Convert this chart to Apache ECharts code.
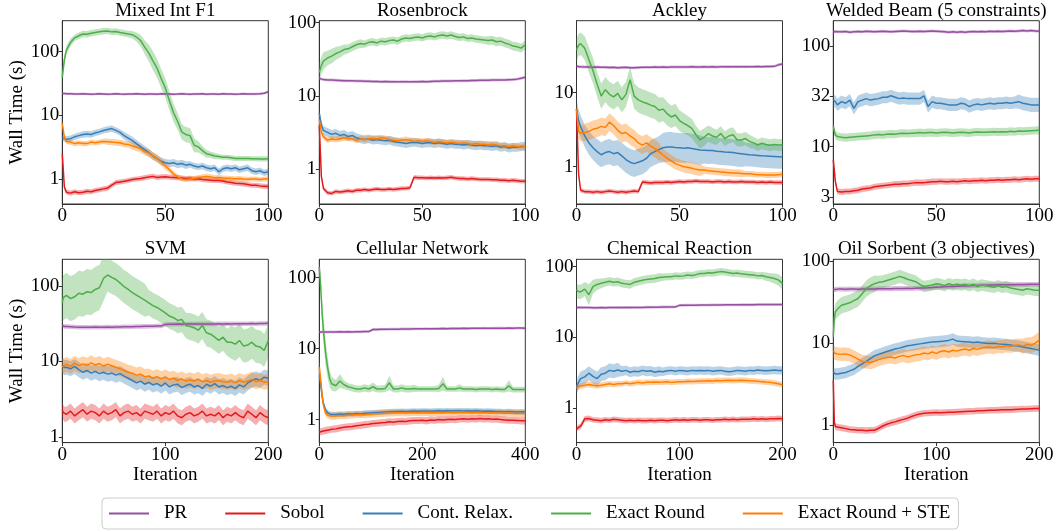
<!DOCTYPE html>
<html><head><meta charset="utf-8">
<script src="https://cdn.jsdelivr.net/npm/echarts@6/dist/echarts.min.js"></script>
<style>html,body{margin:0;padding:0;background:#fff}#c{width:1058px;height:531px}</style>
</head><body><div id="c"></div><script>
// ---------- iterations (x values) ----------
const ITER_100 = [0,1,2,4,6,8,10,12,14,16,18,20,22,24,26,28,30,32,34,36,38,40,42,44,46,48,50,52,54,56,58,60,62,64,66,68,70,72,74,76,78,80,82,84,86,88,90,92,94,96,98,100];
const ITER_200 = [0,1,2,4,8,12,16,20,24,28,32,36,40,44,48,52,56,60,64,68,72,76,80,84,88,92,96,100,104,108,112,116,120,124,128,132,136,140,144,148,152,156,160,164,168,172,176,180,184,188,192,196,200];
const ITER_400 = [0,2,4,6,8,12,16,20,24,32,40,48,56,64,72,80,88,96,104,112,120,128,136,144,152,160,168,176,184,192,200,208,216,224,232,240,248,256,264,272,280,288,296,304,312,320,328,336,344,352,360,368,376,384,392,400];

// ---------- tick labels ----------
const TICKS_DEC = [1, 10, 100];
const TICKS_DEC_TEXT = ['1', '10', '100'];
const TICKS_WELD = [3.1623, 10, 31.623, 100];
const TICKS_WELD_TEXT = ['3', '10', '32', '100'];

const METHODS = ['PR', 'Sobol', 'Cont. Relax.', 'Exact Round', 'Exact Round + STE'];
const PANEL_TITLES = ['Mixed Int F1','Rosenbrock','Ackley','Welded Beam (5 constraints)','SVM','Cellular Network','Chemical Reaction','Oil Sorbent (3 objectives)'];

// ---------- Mixed Int F1 (mean, band half-width in decades) ----------
const mixed_PR = [22,22,21.8, 21.8,21.6,21.7,21.9,21.7,21.5,21.6,21.8,21.7, 21.5,21.6,21.8,21.6,21.5,21.7,21.6,21.8,21.7,21.5, 21.6,21.7,21.5,21.8,21.6,21.7,21.5,21.6,21.8,21.6, 21.5,21.7,21.6,21.8,21.5,21.6,21.7,21.5,21.8,21.6, 21.7,21.5,21.6,21.8,21.6,21.7,21.6,21.8,22.2,23.5];
const mixed_PR_W = [.02,.02,.02, .02,.02,.02,.02,.02,.02,.02,.02,.02, .02,.02,.02,.02,.02,.02,.02,.02,.02,.02, .02,.02,.02,.02,.02,.02,.02,.02,.02,.02, .02,.02,.02,.02,.02,.02,.02,.02,.02,.02, .02,.02,.02,.02,.02,.02,.02,.02,.02,.02];
const mixed_SOB = [2.5,0.75,0.62, 0.6,0.63,0.61,0.62,0.64,0.63,0.66,0.68,0.7, 0.72,0.8,0.88,0.9,0.92,0.95,0.98,1.0,1.02,1.05, 1.08,1.1,1.06,1.08,1.09,1.07,1.06,1.05,1.04,1.02, 1.03,1.0,1.01,0.98,0.97,0.96,0.95,0.95,0.93,0.9, 0.88,0.86,0.85,0.84,0.82,0.8,0.8,0.78,0.77,0.76];
const mixed_SOB_W = [.04,.04,.04, .04,.04,.04,.04,.04,.04,.04,.04,.04, .04,.04,.04,.04,.04,.04,.04,.04,.04,.04, .04,.04,.04,.04,.04,.04,.04,.04,.04,.04, .04,.04,.04,.04,.04,.04,.04,.04,.04,.04, .04,.04,.04,.04,.04,.04,.04,.04,.04,.04];
const mixed_CR = [4.4,4.3,4.2, 4.3,4.6,4.8,5.0,5.1,5.0,5.3,5.5,5.8, 6.0,6.2,5.8,5.4,4.8,4.4,4.0,3.6,3.2,2.9, 2.6,2.3,2.1,1.9,1.8,1.75,1.8,1.7,1.75,1.65, 1.7,1.6,1.55,1.6,1.5,1.45,1.5,1.3,1.45,1.5, 1.45,1.5,1.4,1.45,1.5,1.35,1.3,1.35,1.25,1.3];
const mixed_CR_W = [.05,.05,.05, .05,.05,.05,.05,.05,.05,.05,.05,.05, .05,.05,.05,.05,.06,.06,.06,.06,.06,.06, .06,.06,.06,.06,.06,.06,.06,.06,.06,.06, .05,.05,.05,.05,.05,.05,.05,.05,.05,.05, .05,.05,.05,.05,.05,.05,.05,.05,.05,.05];
const mixed_ER = [40,75,106, 140,165,178,190,188,195,200,205,210, 212,205,208,200,195,190,185,170,150,118, 95,72,55,38,27,17,11,8,5.5,5, 4.8,3.4,3.2,2.8,2.5,2.4,2.3,2.25,2.2,2.2, 2.15,2.1,2.1,2.1,2.1,2.08,2.08,2.07,2.07,2.08];
const mixed_ER_W = [.1,.08,.07, .06,.05,.05,.05,.05,.05,.05,.05,.05, .05,.05,.05,.05,.05,.05,.06,.07,.09,.11, .13,.15,.15,.15,.15,.15,.14,.13,.12,.12, .12,.11,.09,.07,.06,.05,.05,.04,.04,.04, .04,.04,.04,.04,.04,.04,.04,.04,.04,.04];
const mixed_STE = [7.5,4.5,3.9, 3.8,3.6,3.7,3.6,3.6,3.8,3.7,3.8,3.9, 3.85,3.8,3.75,3.7,3.55,3.5,3.3,3.15,3.0,2.7, 2.55,2.3,2.1,1.85,1.6,1.4,1.2,1.08,1.0,0.98, 1.0,1.02,1.05,1.08,1.1,1.08,1.05,1.06,1.04,1.03, 1.02,1.01,1.02,1.0,0.99,1.0,1.0,0.98,1.0,1.0];
const mixed_STE_W = [.05,.04,.04, .04,.04,.04,.04,.04,.04,.04,.04,.04, .05,.05,.05,.05,.05,.05,.06,.06,.06,.06, .06,.06,.06,.06,.06,.05,.05,.04,.04,.04, .04,.04,.04,.04,.04,.04,.04,.04,.04,.04, .04,.04,.04,.04,.04,.04,.04,.04,.04,.04];

// ---------- Rosenbrock ----------
const rosen_PR = [17.5,17,16.8, 16.6,16.5,16.4,16.3,16.2,16.2,16.1,16,16, 15.9,15.9,15.8,15.8,15.7,15.8,15.7,15.7,15.6,15.7, 15.7,15.6,15.7,15.7,15.8,15.7,15.8,15.9,15.9,16, 16,16,16.1,16.1,16.2,16.2,16.3,16.3,16.4,16.4, 16.4,16.5,16.5,16.6,16.6,16.7,16.8,17,17.5,18];
const rosen_PR_W = [.02,.02,.02, .02,.02,.02,.02,.02,.02,.02,.02,.02, .02,.02,.02,.02,.02,.02,.02,.02,.02,.02, .02,.02,.02,.02,.02,.02,.02,.02,.02,.02, .02,.02,.02,.02,.02,.02,.02,.02,.02,.02, .02,.02,.02,.02,.02,.02,.02,.02,.02,.02];
const rosen_SOB = [4,0.8,0.55, 0.48,0.47,0.5,0.49,0.5,0.51,0.5,0.52,0.52, 0.53,0.52,0.53,0.54,0.53,0.53,0.54,0.53,0.54,0.55, 0.55,0.56,0.78,0.77,0.77,0.76,0.77,0.76,0.77,0.76, 0.77,0.78,0.76,0.75,0.75,0.74,0.75,0.74,0.73,0.73, 0.73,0.72,0.72,0.71,0.71,0.7,0.71,0.7,0.69,0.69];
const rosen_SOB_W = [.03,.03,.03, .03,.03,.03,.03,.03,.03,.03,.03,.03, .03,.03,.03,.03,.03,.03,.03,.03,.03,.03, .03,.03,.03,.03,.03,.03,.03,.03,.03,.03, .03,.03,.03,.03,.03,.03,.03,.03,.03,.03, .03,.03,.03,.03,.03,.03,.03,.03,.03,.03];
const rosen_CR = [5.8,4.0,3.4, 3.2,3.0,3.1,2.9,3.0,2.8,2.9,2.7,2.6, 2.55,2.6,2.5,2.55,2.5,2.45,2.5,2.4,2.35,2.3, 2.25,2.3,2.35,2.3,2.25,2.3,2.3,2.25,2.3,2.25, 2.2,2.25,2.2,2.2,2.15,2.2,2.15,2.1,2.15,2.1, 2.1,2.05,2.1,2.0,2.05,1.95,2.0,2.0,2.05,2.05];
const rosen_CR_W = [.06,.06,.06, .06,.06,.06,.06,.06,.06,.06,.06,.06, .06,.06,.06,.06,.06,.06,.06,.06,.06,.06, .06,.06,.06,.06,.06,.06,.06,.06,.06,.06, .06,.06,.06,.06,.06,.06,.06,.06,.06,.06, .06,.06,.06,.06,.06,.06,.06,.06,.06,.06];
const rosen_ER = [21,26,30, 33,35,38,40,43,44,47,50,52, 51,54,55,53,56,55,57,58,56,60, 62,61,63,64,62,65,66,64,67,68, 66,68,65,63,64,61,62,60,59,58, 57,58,55,56,53,51,48,47,45,50];
const rosen_ER_W = [.12,.12,.12, .1,.1,.09,.08,.07,.06,.06,.06,.06, .05,.05,.05,.05,.05,.05,.05,.05,.05,.05, .05,.05,.05,.05,.05,.05,.05,.05,.05,.05, .05,.05,.05,.05,.05,.05,.05,.05,.05,.05, .06,.06,.06,.06,.06,.06,.06,.06,.06,.06];
const rosen_STE = [4.8,3.2,2.8, 2.5,2.6,2.55,2.6,2.7,2.65,2.6,2.5,2.6, 2.55,2.6,2.65,2.6,2.7,2.65,2.55,2.5,2.45,2.5, 2.55,2.5,2.4,2.45,2.4,2.45,2.4,2.35,2.4,2.35, 2.3,2.35,2.3,2.25,2.3,2.25,2.2,2.25,2.2,2.2, 2.15,2.2,2.15,2.1,2.1,2.05,2.1,2.05,2.0,2.05];
const rosen_STE_W = [.04,.04,.04, .04,.04,.04,.04,.04,.04,.04,.04,.04, .04,.04,.04,.04,.04,.04,.04,.04,.04,.04, .04,.04,.04,.04,.04,.04,.04,.04,.04,.04, .04,.04,.04,.04,.04,.04,.04,.04,.04,.04, .04,.04,.04,.04,.04,.04,.04,.04,.04,.04];

// ---------- Ackley ----------
const ackley_PR = [23,22.5,22.4, 22.3,22.2,22.1,22.2,22.0,22.1,21.9,22.0,21.8, 21.9,22.0,21.8,21.7,21.9,22.0,22.1,22.0,22.2,22.1, 22.2,22.1,22.3,22.2,22.2,22.3,22.2,22.4,22.3,22.3, 22.4,22.3,22.4,22.3,22.5,22.4,22.4,22.5,22.4,22.5, 22.4,22.5,22.5,22.6,22.5,22.6,22.6,22.7,23.8,24.5];
const ackley_PR_W = [.02,.02,.02, .02,.02,.02,.02,.02,.02,.02,.02,.02, .02,.02,.02,.02,.02,.02,.02,.02,.02,.02, .02,.02,.02,.02,.02,.02,.02,.02,.02,.02, .02,.02,.02,.02,.02,.02,.02,.02,.02,.02, .02,.02,.02,.02,.02,.02,.02,.02,.02,.02];
const ackley_SOB = [6,0.8,0.48, 0.46,0.46,0.45,0.46,0.45,0.46,0.47,0.46,0.45, 0.46,0.45,0.46,0.47,0.46,0.62,0.61,0.6,0.61,0.61, 0.61,0.62,0.61,0.62,0.63,0.62,0.63,0.63,0.64,0.63, 0.63,0.63,0.62,0.63,0.63,0.62,0.63,0.62,0.62,0.63, 0.62,0.62,0.62,0.61,0.62,0.61,0.62,0.61,0.61,0.61];
const ackley_SOB_W = [.03,.03,.03, .03,.03,.03,.03,.03,.03,.03,.03,.03, .03,.03,.03,.03,.03,.03,.03,.03,.03,.03, .03,.03,.03,.03,.03,.03,.03,.03,.03,.03, .03,.03,.03,.03,.03,.03,.03,.03,.03,.03, .03,.03,.03,.03,.03,.03,.03,.03,.03,.03];
const ackley_CR = [6,4.2,3.5, 2.6,2.1,1.8,1.6,1.45,1.55,1.6,1.5,1.55, 1.4,1.25,1.15,1.1,1.15,1.2,1.3,1.5,1.6,1.7, 1.8,1.85,1.85,1.82,1.8,1.78,1.8,1.76,1.72,1.68, 1.67,1.65,1.66,1.62,1.6,1.58,1.57,1.55,1.52,1.5, 1.47,1.45,1.44,1.42,1.4,1.39,1.38,1.37,1.36,1.36];
const ackley_CR_W = [.15,.15,.15, .15,.16,.16,.17,.17,.17,.17,.17,.17, .18,.18,.18,.18,.18,.18,.18,.18,.18,.18, .2,.2,.2,.2,.2,.2,.2,.2,.2,.2, .18,.18,.18,.18,.18,.18,.18,.18,.18,.18, .16,.16,.16,.16,.16,.16,.16,.16,.16,.16];
const ackley_ER = [38,44,46, 40,28,20,13,9,11,9.5,8.8,9.8, 8,9.5,15,9,8,7.5,7.2,6.8,6.5,5.8, 6,5.2,4.7,5,4.2,3.85,3.6,3.3,2.7,2.3, 2.5,2.8,2.6,2.5,2.8,2.4,2.6,2.7,2.3,2.3, 2.4,2.2,2.1,1.96,2.07,2.0,1.95,2.0,1.96,1.98];
const ackley_ER_W = [.15,.15,.15, .16,.17,.17,.17,.17,.17,.17,.17,.17, .17,.17,.17,.17,.17,.17,.17,.17,.17,.17, .16,.16,.15,.15,.14,.14,.13,.13,.12,.12, .12,.11,.11,.1,.1,.1,.1,.1,.09,.09, .09,.09,.08,.08,.08,.08,.08,.08,.08,.08];
const ackley_STE = [6,3.0,2.8, 2.9,3.0,3.2,3.3,3.5,3.4,4.0,3.6,3.1, 2.8,2.9,2.6,2.4,2.1,1.96,2.1,1.9,1.77,1.6, 1.44,1.3,1.2,1.1,1.05,1.0,0.98,0.95,0.92,0.9, 0.9,0.88,0.87,0.86,0.85,0.84,0.83,0.82,0.82,0.81, 0.8,0.8,0.79,0.78,0.78,0.77,0.77,0.77,0.78,0.79];
const ackley_STE_W = [.1,.1,.1, .12,.12,.12,.12,.12,.12,.12,.12,.12, .12,.12,.12,.12,.12,.12,.12,.12,.12,.12, .08,.08,.08,.08,.08,.08,.08,.08,.08,.08, .05,.05,.05,.05,.05,.05,.05,.05,.05,.05, .04,.04,.04,.04,.04,.04,.04,.04,.04,.04];

// ---------- Welded Beam (no STE) ----------
const welded_PR = [138,139,138, 138,139,137,138,139,138,140,139,138, 139,140,139,138,139,140,141,140,139,139, 140,139,140,141,140,139,138,137,138,137, 138,137,138,139,138,139,138,140,139,140, 139,140,141,140,141,142,141,142,141,140];
const welded_PR_W = [.015,.015,.015, .015,.015,.015,.015,.015,.015,.015,.015,.015, .015,.015,.015,.015,.015,.015,.015,.015,.015,.015, .015,.015,.015,.015,.015,.015,.015,.015,.015,.015, .015,.015,.015,.015,.015,.015,.015,.015,.015,.015, .015,.015,.015,.015,.015,.015,.015,.015,.015,.015];
const welded_SOB = [7.4,4.5,3.6, 3.55,3.6,3.6,3.65,3.7,3.8,3.85,3.9,4.0, 4.05,4.1,4.15,4.2,4.25,4.25,4.3,4.3,4.35,4.4, 4.4,4.4,4.45,4.5,4.5,4.55,4.5,4.5,4.55,4.5, 4.55,4.6,4.55,4.6,4.6,4.65,4.6,4.65,4.65,4.7, 4.65,4.7,4.7,4.75,4.7,4.75,4.8,4.75,4.8,4.8];
const welded_SOB_W = [.03,.03,.03, .03,.03,.03,.03,.03,.03,.03,.03,.03, .03,.03,.03,.03,.03,.03,.03,.03,.03,.03, .03,.03,.03,.03,.03,.03,.03,.03,.03,.03, .03,.03,.03,.03,.03,.03,.03,.03,.03,.03, .03,.03,.03,.03,.03,.03,.03,.03,.03,.03];
const welded_CR = [29,28,26, 28,27,29,24,28,29,30,29,29.5, 30,31,31,32,31,30,30.5,30,30,30, 30,32,25,28,27,27,26.5,26,26,26, 27,26.5,25,26,26.5,26,26.5,27,26.5,27, 27,27.5,27,27.5,28,27,26.5,26,26,26];
const welded_CR_W = [.06,.06,.06, .06,.06,.06,.06,.06,.06,.06,.06,.06, .06,.06,.06,.06,.06,.06,.06,.06,.06,.06, .06,.06,.06,.06,.06,.06,.06,.06,.06,.06, .06,.06,.06,.06,.06,.06,.06,.06,.06,.06, .06,.06,.06,.06,.07,.07,.07,.07,.07,.07];
const welded_ER = [16,13,12.6, 12.4,12.3,12.4,12.5,12.6,12.7,12.8,12.9,13.1, 13.2,13.1,13.3,13.4,13.3,13.5,13.6,13.5,13.6,13.7, 13.8,13.7,13.8,13.8,13.7,13.8,13.9,13.8,13.7,13.8, 13.9,13.8,13.7,13.9,14.0,13.9,13.9,14.0,14.1,14.0, 14.1,14.0,14.2,14.1,14.3,14.2,14.3,14.4,14.5,14.6];
const welded_ER_W = [.04,.04,.04, .04,.04,.04,.04,.04,.04,.04,.04,.04, .04,.04,.04,.04,.04,.04,.04,.04,.04,.04, .04,.04,.04,.04,.04,.04,.04,.04,.04,.04, .04,.04,.04,.04,.04,.04,.04,.04,.04,.04, .04,.04,.04,.04,.04,.04,.04,.04,.04,.04];

// ---------- SVM ----------
const svm_PR = [30,29.5,29, 29,28.8,28.6,28.5,28.5,28.4,28.5,28.6,28.4,28.5, 28.6,28.5,28.6,28.7,28.8,28.8,28.9,29,29.1,29.2, 29.3,29.4,29.5,29.6,31,31.2,31.2,31.3,31.2,31.4, 31.3,31.4,31.3,31.5,31.4,31.5,31.4,31.6,31.5,31.6, 31.5,31.6,31.7,31.6,31.7,31.8,31.7,31.8,31.9,32];
const svm_PR_W = [.03,.03,.03, .03,.03,.03,.03,.03,.03,.03,.03,.03,.03, .03,.03,.03,.03,.03,.03,.03,.03,.03,.03, .03,.03,.03,.03,.03,.03,.03,.03,.03,.03, .03,.03,.03,.03,.03,.03,.03,.03,.03,.03, .03,.03,.03,.03,.03,.03,.03,.03,.03,.03];
const svm_SOB = [2.3,2.1,2.0, 2.0,2.2,1.9,2.1,2.3,2.0,2.2,2.1,1.9,2.2, 2.0,2.1,2.3,1.9,2.1,2.2,2.0,2.1,1.9,2.2, 2.1,2.0,2.2,1.9,2.1,2.0,2.2,1.9,1.8,2.0, 2.1,1.9,2.0,2.2,1.9,2.0,1.9,2.1,1.8,2.0, 1.9,2.1,1.9,1.8,2.2,2.0,1.8,2.1,1.9,1.8];
const svm_SOB_W = [.1,.1,.1, .1,.1,.1,.1,.1,.1,.1,.1,.1,.1, .1,.1,.1,.1,.1,.1,.1,.1,.1,.1, .1,.1,.1,.1,.1,.1,.1,.1,.1,.1, .1,.1,.1,.1,.1,.1,.1,.1,.1,.1, .1,.1,.1,.1,.1,.1,.1,.1,.1,.1];
const svm_CR = [9,8.5,8.3, 8.4,8.0,8.6,7.8,7.2,7.6,7.0,7.4,6.9,7.2, 6.8,7.0,6.6,6.9,6.4,6.0,5.6,5.2,5.5,5.0, 5.3,4.9,5.1,4.7,5.2,4.6,4.9,5.0,4.5,4.8, 5.0,4.6,4.8,4.4,5.0,4.7,5.1,4.6,4.8,4.5, 4.7,4.4,4.9,4.6,5.2,5.6,5.9,5.6,6.2,6.0];
const svm_CR_W = [.1,.1,.1, .1,.1,.1,.1,.1,.1,.1,.1,.1,.1, .1,.1,.1,.1,.1,.1,.1,.1,.1,.1, .1,.1,.1,.1,.1,.1,.1,.1,.1,.1, .1,.1,.1,.1,.1,.1,.1,.1,.1,.1, .1,.1,.1,.1,.1,.1,.1,.1,.1,.1];
const svm_ER = [60,70,72, 75,68,72,80,78,84,82,90,95,126, 140,130,122,110,98,90,82,76,70,65, 60,55,52,48,44,40,38,35,36,30, 29,28,26,30,24,23,21,19,21,18, 18,17,19,16,16.5,18,16,15.6,14,19];
const svm_ER_W = [.3,.3,.3, .3,.3,.3,.3,.3,.3,.3,.3,.3,.3, .22,.22,.22,.22,.22,.22,.22,.22,.22,.22, .17,.17,.17,.17,.17,.17,.17,.17,.17,.17, .18,.18,.18,.18,.18,.18,.18,.18,.18,.18, .22,.22,.22,.22,.22,.22,.22,.22,.22,.22];
const svm_STE = [8.5,9,8.8, 9.2,8.6,9.5,8.8,9.3,8.9,9.6,9.0,9.4,8.7, 9.2,8.8,8.4,8.0,7.6,7.2,7.0,6.6,6.8,6.3, 6.4,6.0,6.3,5.9,6.2,5.8,6.0,5.6,5.9,5.5, 5.7,5.5,5.8,5.4,5.6,5.3,5.5,5.6,5.4,5.3, 5.5,5.2,5.6,5.3,5.5,5.8,5.4,5.6,5.3,5.4];
const svm_STE_W = [.1,.1,.1, .1,.1,.1,.1,.1,.1,.1,.1,.1,.1, .1,.1,.1,.1,.1,.1,.1,.1,.1,.1, .1,.1,.1,.1,.1,.1,.1,.1,.1,.1, .1,.1,.1,.1,.1,.1,.1,.1,.1,.1, .1,.1,.1,.1,.1,.1,.1,.1,.1,.1];

// ---------- Cellular Network ----------
const cell_PR = [17,17,17.2,17.2,17.1,17.2,17.1,17.2,17.2, 17.2,17.3,17.2,17.3,17.2,17.3,17.3,17.4,17.4,18.6, 18.6,18.7,18.7,18.8,18.8,18.8,18.9,18.9,18.9,19, 19,19,19.1,19,19.1,19.1,19.2,19.1,19.2,19.2, 19.2,19.3,19.2,19.3,19.3,19.3,19.4,19.3,19.4,19.4, 19.4,19.4,19.5,19.4,19.5,19.5,19.4];
const cell_PR_W = [.02,.02,.02,.02,.02,.02,.02,.02,.02, .02,.02,.02,.02,.02,.02,.02,.02,.02,.02, .02,.02,.02,.02,.02,.02,.02,.02,.02,.02, .02,.02,.02,.02,.02,.02,.02,.02,.02,.02, .02,.02,.02,.02,.02,.02,.02,.02,.02,.02, .02,.02,.02,.02,.02,.02,.02];
const cell_SOB = [0.66,0.67,0.68,0.68,0.69,0.7,0.71,0.72,0.73, 0.74,0.76,0.78,0.79,0.8,0.82,0.83,0.85,0.86,0.88, 0.89,0.9,0.91,0.93,0.92,0.94,0.95,0.94,0.96,0.97, 0.97,0.98,0.96,0.99,0.98,1.0,0.99,1.0,1.01,1.0, 1.02,1.03,1.01,1.03,1.02,1.04,1.02,1.03,1.01,1.02, 1.0,0.99,0.98,0.98,0.97,0.96,0.96];
const cell_SOB_W = [.05,.05,.05,.05,.05,.05,.05,.05,.05, .05,.05,.05,.05,.05,.05,.05,.05,.05,.05, .05,.05,.05,.05,.05,.05,.05,.05,.05,.05, .05,.05,.05,.05,.05,.05,.05,.05,.05,.05, .05,.05,.05,.05,.05,.05,.05,.05,.05,.05, .05,.05,.05,.05,.05,.05,.05];
const cell_CR = [4.2,3.5,2.6,2.0,1.7,1.38,1.25,1.2,1.18, 1.18,1.2,1.19,1.21,1.2,1.22,1.21,1.23,1.24,1.25, 1.26,1.27,1.28,1.29,1.3,1.3,1.31,1.3,1.31,1.32, 1.31,1.32,1.32,1.31,1.32,1.33,1.32,1.33,1.32,1.33, 1.33,1.32,1.33,1.32,1.33,1.32,1.31,1.32,1.31,1.3, 1.3,1.29,1.3,1.29,1.28,1.29,1.28];
const cell_CR_W = [.08,.08,.06,.05,.04,.04,.04,.04,.04, .04,.04,.04,.04,.04,.04,.04,.04,.04,.04, .04,.04,.04,.04,.04,.04,.04,.04,.04,.04, .04,.04,.04,.04,.04,.04,.04,.04,.04,.04, .04,.04,.04,.04,.04,.04,.04,.04,.04,.04, .04,.04,.04,.04,.04,.04,.04];
const cell_ER = [140,90,50,28,18,9,5.5,3.8,3.2, 3.0,3.5,3.1,2.9,2.8,2.7,2.7,2.8,2.7,2.9, 2.7,2.7,2.75,3.3,2.7,2.7,2.8,2.7,2.7,2.75, 2.7,2.7,2.7,2.7,2.7,2.75,3.2,2.7,2.7,2.7, 2.8,2.7,2.7,2.7,2.65,2.7,2.7,2.7,2.65,2.7, 2.65,2.65,3.0,2.65,2.65,2.65,2.65];
const cell_ER_W = [.12,.15,.18,.18,.18,.18,.15,.12,.1, .08,.1,.06,.05,.05,.05,.05,.05,.05,.06, .05,.05,.05,.1,.05,.05,.05,.05,.05,.05, .04,.04,.04,.04,.04,.05,.1,.04,.04,.04, .05,.04,.04,.04,.04,.04,.04,.04,.04,.04, .04,.04,.08,.04,.04,.04,.04];
const cell_STE = [5.5,4.0,2.9,2.1,1.6,1.25,1.15,1.13,1.12, 1.12,1.14,1.13,1.15,1.16,1.17,1.18,1.17,1.19,1.2, 1.21,1.22,1.23,1.24,1.24,1.25,1.25,1.24,1.25,1.26, 1.25,1.26,1.25,1.26,1.25,1.26,1.25,1.26,1.26,1.25, 1.26,1.27,1.26,1.25,1.26,1.25,1.25,1.24,1.25,1.24, 1.24,1.23,1.24,1.23,1.22,1.22,1.22];
const cell_STE_W = [.12,.12,.1,.08,.06,.05,.05,.05,.05, .05,.05,.05,.05,.05,.05,.05,.05,.05,.05, .05,.05,.05,.05,.05,.05,.05,.05,.05,.05, .05,.05,.05,.05,.05,.05,.05,.05,.05,.05, .05,.05,.05,.05,.05,.05,.05,.05,.05,.05, .05,.05,.05,.05,.05,.05,.05];

// ---------- Chemical Reaction ----------
const chem_PR = [26.5,26.5,26.4, 26.4,26.3,26.3,26.2,26.2,26.3,26.2,26.3,26.3,26.4, 26.3,26.4,26.4,26.5,26.5,26.5,26.6,26.6,26.7,26.7, 26.8,26.8,26.9,26.9,28.3,28.4,28.5,28.5,28.5,28.6, 28.6,28.6,28.7,28.7,28.7,28.8,28.8,28.8,28.8,28.9, 28.9,28.9,28.9,29,29,29,29,29,29,29];
const chem_PR_W = [.02,.02,.02, .02,.02,.02,.02,.02,.02,.02,.02,.02,.02, .02,.02,.02,.02,.02,.02,.02,.02,.02,.02, .02,.02,.02,.02,.02,.02,.02,.02,.02,.02, .02,.02,.02,.02,.02,.02,.02,.02,.02,.02, .02,.02,.02,.02,.02,.02,.02,.02,.02,.02];
const chem_SOB = [0.5,0.52,0.53, 0.55,0.7,0.71,0.68,0.67,0.66,0.68,0.67,0.69,0.68, 0.67,0.66,0.67,0.66,0.67,0.66,0.66,0.67,0.66,0.67, 0.67,0.66,0.67,0.68,0.67,0.68,0.67,0.68,0.68,0.67, 0.68,0.68,0.67,0.68,0.68,0.69,0.68,0.69,0.68,0.69, 0.69,0.69,0.7,0.69,0.7,0.69,0.7,0.7,0.71,0.7];
const chem_SOB_W = [.04,.04,.04, .04,.04,.04,.04,.04,.04,.04,.04,.04,.04, .04,.04,.04,.04,.04,.04,.04,.04,.04,.04, .04,.04,.04,.04,.04,.04,.04,.04,.04,.04, .04,.04,.04,.04,.04,.04,.04,.04,.04,.04, .04,.04,.04,.04,.04,.04,.04,.04,.04,.04];
const chem_CR = [2.0,2.1,2.3, 2.6,2.75,3.1,2.8,2.6,3.0,3.1,3.4,3.3,3.45, 3.3,3.4,3.2,3.3,3.25,3.4,3.3,3.35,3.2,3.3, 3.25,3.35,3.4,3.3,3.4,3.35,3.3,3.4,3.35,3.4, 3.35,3.4,3.3,3.35,3.4,3.3,3.25,3.3,3.4,3.35, 3.3,3.4,3.35,3.45,3.4,3.35,3.4,3.45,3.4,3.4];
const chem_CR_W = [.1,.1,.1, .1,.1,.1,.1,.1,.1,.1,.1,.1,.1, .07,.07,.07,.07,.07,.07,.07,.07,.07,.07, .06,.06,.06,.06,.06,.06,.06,.06,.06,.06, .06,.06,.06,.06,.06,.06,.06,.06,.06,.06, .06,.06,.06,.06,.06,.06,.06,.06,.06,.06];
const chem_ER = [47,45,44, 44,48,40,52,56,58,60,62,60,61, 58,57,56,60,62,64,66,67,68,70, 71,72,72,74,73,74,76,75,77,80, 80,82,81,83,85,84,82,80,81,79, 78,77,76,74,75,72,70,68,65,58];
const chem_ER_W = [.1,.1,.1, .1,.1,.15,.1,.08,.07,.06,.06,.06,.06, .06,.06,.06,.06,.06,.06,.06,.06,.06,.06, .05,.05,.05,.05,.05,.05,.05,.05,.05,.05, .05,.05,.05,.05,.05,.05,.05,.05,.05,.05, .05,.05,.05,.05,.05,.06,.06,.07,.08,.09];
const chem_STE = [1.9,1.95,2.0, 2.05,2.1,2.15,2.1,2.05,2.1,2.15,2.2,2.15,2.2, 2.2,2.25,2.2,2.25,2.3,2.25,2.3,2.3,2.32,2.3, 2.32,2.35,2.3,2.33,2.35,2.35,2.38,2.36,2.38,2.4, 2.4,2.42,2.4,2.45,2.43,2.45,2.46,2.44,2.45,2.47, 2.45,2.42,2.4,2.38,2.35,2.32,2.3,2.25,2.2,2.12];
const chem_STE_W = [.04,.04,.04, .04,.04,.04,.04,.04,.04,.04,.04,.04,.04, .04,.04,.04,.04,.04,.04,.04,.04,.04,.04, .04,.04,.04,.04,.04,.04,.04,.04,.04,.04, .04,.04,.04,.04,.04,.04,.04,.04,.04,.04, .04,.04,.04,.04,.04,.04,.04,.04,.04,.04];

// ---------- Oil Sorbent ----------
const oil_PR = [45,45,45, 45.5,45.5,45.3,45.6,45.5,45.4,45.7,45.6,45.8,45.7, 46,45.9,46.1,46,46.2,46.3,46.2,46.5,46.4,46.6, 46.8,47,47.2,47.5,48,48.2,48.5,48.8,49,49.2, 49.5,49.7,50,50.2,50.4,50.6,50.8,51,51.2,51.3, 51.4,51.5,51.5,51.6,51.7,51.8,51.9,52,52,52];
const oil_PR_W = [.03,.03,.03, .03,.03,.03,.03,.03,.03,.03,.03,.03,.03, .03,.03,.03,.03,.03,.03,.03,.03,.03,.03, .03,.03,.03,.03,.03,.03,.03,.03,.03,.03, .03,.03,.03,.03,.03,.03,.03,.03,.03,.03, .03,.03,.03,.03,.03,.03,.03,.03,.03,.03];
const oil_SOB = [3.5,1.1,0.96, 0.95,0.93,0.91,0.89,0.88,0.87,0.87,0.86,0.87,0.87, 0.92,0.98,1.03,1.07,1.1,1.14,1.18,1.22,1.28,1.33, 1.37,1.4,1.41,1.42,1.43,1.42,1.43,1.44,1.44,1.45, 1.46,1.47,1.48,1.48,1.5,1.5,1.51,1.52,1.52,1.53, 1.54,1.55,1.55,1.56,1.57,1.58,1.58,1.59,1.6,1.6];
const oil_SOB_W = [.04,.04,.04, .04,.04,.04,.04,.04,.04,.04,.04,.04,.04, .04,.04,.04,.04,.04,.04,.04,.04,.04,.04, .04,.04,.04,.04,.04,.04,.04,.04,.04,.04, .04,.04,.04,.04,.04,.04,.04,.04,.04,.04, .04,.04,.04,.04,.04,.04,.04,.04,.04,.04];
const oil_CR = [4.5,4.3,4.2, 4.2,4.3,4.4,4.6,4.8,5.2,5.6,6.0,6.5,7.0, 7.3,7.6,7.9,8.2,8.5,8.7,9.0,9.3,9.4,9.6, 9.8,10,10.2,10.3,10.4,10.5,10.6,10.8,11.2,10.6, 10.5,10.4,10.3,10.2,10.3,10.1,10.0,9.9,10.0,9.8, 9.7,9.6,9.5,9.3,9.2,9.0,8.8,8.6,8.4,8.2];
const oil_CR_W = [.07,.07,.07, .07,.07,.07,.07,.07,.07,.07,.07,.07,.07, .07,.07,.07,.07,.07,.07,.07,.07,.07,.07, .07,.07,.07,.07,.07,.07,.07,.07,.07,.07, .07,.07,.07,.07,.07,.07,.07,.07,.07,.07, .07,.07,.07,.07,.07,.07,.07,.07,.07,.07];
const oil_ER = [12,20,24, 26,29,30,31,33,35,40,46,50,53, 55,56,58,60,62,65,63,60,58,56, 52,49,50,51,53,52,50,53,51,52, 51,52,50,52,49,51,50,49,48,50, 48,49,47,46,45,44,46,45,44,44];
const oil_ER_W = [.15,.12,.1, .1,.1,.1,.1,.1,.1,.1,.1,.1,.1, .08,.08,.08,.08,.08,.08,.08,.08,.08,.08, .07,.07,.07,.07,.07,.07,.07,.07,.07,.07, .07,.07,.07,.07,.07,.07,.07,.07,.07,.07, .07,.07,.07,.07,.07,.07,.07,.07,.07,.07];
const oil_STE = [8,7.6,7.5, 7.4,7.3,7.4,7.2,6.8,6.4,6.0,5.9,5.8,6.0, 6.3,6.5,6.7,6.8,6.6,6.9,7.1,6.8,7.0,7.2, 7.3,7.6,7.4,7.8,7.5,7.9,8.1,7.8,8.2,8.0, 8.3,8.5,8.2,8.6,8.4,8.7,8.9,9.0,8.8,9.1, 9.0,9.3,9.1,9.4,9.5,9.2,9.6,9.4,10.0,10.9];
const oil_STE_W = [.08,.08,.08, .08,.08,.08,.08,.08,.08,.08,.08,.08,.08, .08,.08,.08,.08,.08,.08,.08,.08,.08,.08, .08,.08,.08,.08,.08,.08,.08,.08,.08,.08, .08,.08,.08,.08,.08,.08,.08,.08,.08,.08, .08,.08,.08,.08,.08,.09,.09,.1,.1,.1];

// ---------- styling / layout ----------
const COLORS = ['#984ea3', '#e41a1c', '#377eb8', '#4daf4a', '#ff7f00'];
const FONT = 'Liberation Serif';
const FS = 19;
const COL_LEFT = [62.3, 319.3, 576.5, 833.3];
const ROW_TOP = [20.7, 259.3];
const GRID_W = 206, GRID_H = 183.3;
const TITLE_Y = [10.8, 249];

const PANELS = [
  {iter: ITER_100, xMax: 100, yMin: 0.405, yMax: 307, ticks: TICKS_DEC, tickText: TICKS_DEC_TEXT,
   s: [[mixed_PR,mixed_PR_W],[mixed_SOB,mixed_SOB_W],[mixed_CR,mixed_CR_W],[mixed_ER,mixed_ER_W],[mixed_STE,mixed_STE_W]]},
  {iter: ITER_100, xMax: 100, yMin: 0.337, yMax: 106.5, ticks: TICKS_DEC, tickText: TICKS_DEC_TEXT,
   s: [[rosen_PR,rosen_PR_W],[rosen_SOB,rosen_SOB_W],[rosen_CR,rosen_CR_W],[rosen_ER,rosen_ER_W],[rosen_STE,rosen_STE_W]]},
  {iter: ITER_100, xMax: 100, yMin: 0.313, yMax: 94, ticks: TICKS_DEC, tickText: TICKS_DEC_TEXT,
   s: [[ackley_PR,ackley_PR_W],[ackley_SOB,ackley_SOB_W],[ackley_CR,ackley_CR_W],[ackley_ER,ackley_ER_W],[ackley_STE,ackley_STE_W]]},
  {iter: ITER_100, xMax: 100, yMin: 2.70, yMax: 178, ticks: TICKS_WELD, tickText: TICKS_WELD_TEXT,
   s: [[welded_PR,welded_PR_W],[welded_SOB,welded_SOB_W],[welded_CR,welded_CR_W],[welded_ER,welded_ER_W],null]},
  {iter: ITER_200, xMax: 200, yMin: 0.842, yMax: 226, ticks: TICKS_DEC, tickText: TICKS_DEC_TEXT,
   s: [[svm_PR,svm_PR_W],[svm_SOB,svm_SOB_W],[svm_CR,svm_CR_W],[svm_ER,svm_ER_W],[svm_STE,svm_STE_W]]},
  {iter: ITER_400, xMax: 400, yMin: 0.474, yMax: 181.5, ticks: TICKS_DEC, tickText: TICKS_DEC_TEXT,
   s: [[cell_PR,cell_PR_W],[cell_SOB,cell_SOB_W],[cell_CR,cell_CR_W],[cell_ER,cell_ER_W],[cell_STE,cell_STE_W]]},
  {iter: ITER_200, xMax: 200, yMin: 0.323, yMax: 127, ticks: TICKS_DEC, tickText: TICKS_DEC_TEXT,
   s: [[chem_PR,chem_PR_W],[chem_SOB,chem_SOB_W],[chem_CR,chem_CR_W],[chem_ER,chem_ER_W],[chem_STE,chem_STE_W]]},
  {iter: ITER_200, xMax: 200, yMin: 0.615, yMax: 105, ticks: TICKS_DEC, tickText: TICKS_DEC_TEXT,
   s: [[oil_PR,oil_PR_W],[oil_SOB,oil_SOB_W],[oil_CR,oil_CR_W],[oil_ER,oil_ER_W],[oil_STE,oil_STE_W]]}
];

// sanity check on lengths
const bad = [];
PANELS.forEach((p, i) => p.s.forEach((pair, k) => {
  if (pair && (pair[0].length !== p.iter.length || pair[1].length !== p.iter.length))
    bad.push(PANEL_TITLES[i] + '/' + METHODS[k] + ' ' + pair[0].length + ',' + pair[1].length + ' vs ' + p.iter.length);
}));
if (bad.length) throw new Error('Length mismatch: ' + bad.join('; '));

const grids = [], xAxes = [], yAxes = [], series = [], graphics = [];
PANELS.forEach((p, i) => {
  const row = Math.floor(i / 4), col = i % 4;
  grids.push({left: COL_LEFT[col], top: ROW_TOP[row], width: GRID_W, height: GRID_H,
    show: true, borderColor: '#333', borderWidth: 1, backgroundColor: 'transparent'});
  xAxes.push({gridIndex: i, type: 'value', min: 0, max: p.xMax, interval: p.xMax / 2,
    axisLine: {show: true, lineStyle: {color: '#333', width: 1}},
    axisTick: {show: true, length: 3.5, lineStyle: {color: '#333'}},
    axisLabel: {fontFamily: FONT, fontSize: FS, color: '#000', margin: 3},
    splitLine: {show: false},
    name: row === 1 ? 'Iteration' : '', nameLocation: 'middle', nameGap: 22,
    nameTextStyle: {fontFamily: FONT, fontSize: FS, color: '#000'}});
  yAxes.push({gridIndex: i, type: 'log', logBase: 10, min: p.yMin, max: p.yMax,
    axisLine: {show: true, lineStyle: {color: '#333', width: 1}},
    axisTick: {show: true, length: 3.5, lineStyle: {color: '#333'}, customValues: p.ticks},
    axisLabel: {fontFamily: FONT, fontSize: FS, color: '#000', margin: 3, customValues: p.ticks,
      formatter: function (v) {
        const idx = p.ticks.findIndex(t => Math.abs(t - v) / t < 1e-3);
        return idx >= 0 ? p.tickText[idx] : '';
      }},
    splitLine: {show: false}, minorTick: {show: false},
    name: col === 0 ? 'Wall Time (s)' : '', nameLocation: 'middle', nameGap: 32.5,
    nameTextStyle: {fontFamily: FONT, fontSize: FS, color: '#000'}});
  graphics.push({type: 'text', x: COL_LEFT[col] + GRID_W / 2, y: TITLE_Y[row], silent: true,
    style: {text: PANEL_TITLES[i], font: FS + 'px "' + FONT + '"', fill: '#000', align: 'center', verticalAlign: 'middle'}});

  p.s.forEach((pair, k) => {
    if (!pair) return;
    const mean = pair[0], w = pair[1], xs = p.iter, color = COLORS[k];
    series.push({type: 'custom', name: 'band', xAxisIndex: i, yAxisIndex: i, clip: true, silent: true, z: 1,
      data: [[xs[0], mean[0]]],
      renderItem: function (params, api) {
        const pts = [];
        for (let j = 0; j < xs.length; j++) pts.push(api.coord([xs[j], mean[j] * Math.pow(10, w[j])]));
        for (let j = xs.length - 1; j >= 0; j--) pts.push(api.coord([xs[j], mean[j] / Math.pow(10, w[j])]));
        return {type: 'polygon', shape: {points: pts}, style: {fill: color, opacity: 0.35}};
      }});
    series.push({type: 'line', name: METHODS[k], xAxisIndex: i, yAxisIndex: i, z: 2,
      data: xs.map((x, j) => [x, mean[j]]),
      showSymbol: false, symbol: 'none', color: color,
      lineStyle: {width: 1.5, color: color}, emphasis: {disabled: true}});
  });
});

const chart = echarts.init(document.getElementById('c'), null, {renderer: 'canvas'});
chart.setOption({
  animation: false,
  backgroundColor: '#fff',
  grid: grids, xAxis: xAxes, yAxis: yAxes, series: series, graphic: graphics,
  legend: {
    data: METHODS, left: 102, top: 498, orient: 'horizontal',
    icon: 'rect', itemWidth: 40, itemHeight: 2, itemGap: 38,
    padding: [6, 8, 6, 7], borderColor: '#ccc', borderWidth: 1, borderRadius: 4,
    selectedMode: false,
    textStyle: {fontFamily: FONT, fontSize: FS, color: '#000', padding: [0, 0, 0, 10]}
  }
});
</script></body></html>
